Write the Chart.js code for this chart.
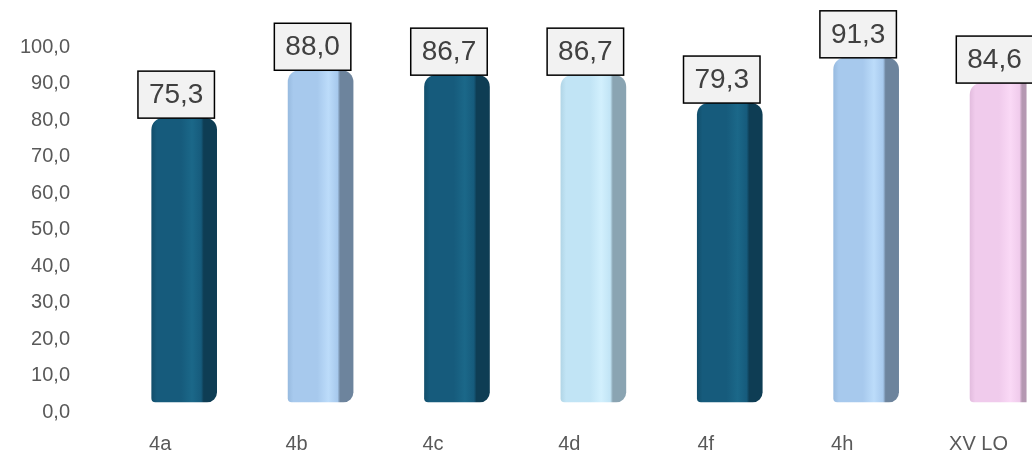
<!DOCTYPE html>
<html>
<head>
<meta charset="utf-8">
<script src="https://cdn.jsdelivr.net/npm/chart.js@4/dist/chart.umd.min.js"></script>
<style>
  html, body { margin: 0; padding: 0; background: #fff; }
  canvas { display: block; }
</style>
</head>
<body>
<canvas id="grafico" width="1032" height="453"></canvas>
<script>
// dane
const klasy = ["4a", "4b", "4c", "4d", "4f", "4h", "XV LO"];
const wyniki = [75.3, 88.0, 86.7, 86.7, 79.3, 91.3, 84.6];
const osY = [0, 10, 20, 30, 40, 50, 60, 70, 80, 90, 100];

// kolory: krawedz, przod, blysk, bok
const kolory = [
    ["#124f6c", "#165b7c", "#1b6889", "#0e3d54"],
    ["#98bbe0", "#a7c9ed", "#bcdcfa", "#6d849d"],
    ["#124f6c", "#165b7c", "#1b6889", "#0e3d54"],
    ["#b2d6e7", "#c1e4f5", "#d2f0fd", "#8aa4b2"],
    ["#124f6c", "#165b7c", "#1b6889", "#0e3d54"],
    ["#98bbe0", "#a7c9ed", "#bcdcfa", "#6d849d"],
    ["#e3bddf", "#f0cbec", "#fad9f6", "#b598b2"]
];

const szerokoscSlupka = 65;
const czcionka = "'Liberation Sans', Arial, sans-serif";

function przecinek(v) {
    return Number(v).toFixed(1).replace(".", ",");
}

function gradient(ctx) {
    const chart = ctx.chart;
    const k = kolory[ctx.dataIndex] || kolory[0];
    if (!chart.chartArea) return k[1];
    const x = chart.scales.x.getPixelForValue(ctx.dataIndex);
    const w = szerokoscSlupka;
    const g = chart.ctx.createLinearGradient(x - w / 2, 0, x + w / 2, 0);
    g.addColorStop(0, k[0]);
    g.addColorStop(0.08, k[1]);
    g.addColorStop(0.45, k[1]);
    g.addColorStop(0.62, k[2]);
    g.addColorStop(0.76, k[1]);
    g.addColorStop(0.8, k[3]);
    g.addColorStop(1, k[3]);
    return g;
}

// etykiety w ramkach nad slupkami
const etykiety = {
    id: "etykiety",
    afterDatasetsDraw(chart) {
        const ctx = chart.ctx;
        const meta = chart.getDatasetMeta(0);
        ctx.save();
        ctx.font = "28px " + czcionka;
        ctx.textAlign = "center";
        ctx.textBaseline = "middle";
        meta.data.forEach(function (el, i) {
            const tekst = przecinek(wyniki[i]);
            const w = ctx.measureText(tekst).width + 22;
            const h = 47;
            const cx = el.x - 8;
            const dol = el.y;
            ctx.fillStyle = "#f2f2f2";
            ctx.fillRect(cx - w / 2, dol - h, w, h);
            ctx.lineWidth = 1.5;
            ctx.strokeStyle = "#000";
            ctx.strokeRect(cx - w / 2, dol - h, w, h);
            ctx.fillStyle = "#404040";
            ctx.fillText(tekst, cx, dol - h / 2 + 1);
        });
        ctx.restore();
    }
};

const chart = new Chart(document.getElementById("grafico"), {
    type: "bar",
    data: {
        datasets: [{
            data: wyniki.map((v, i) => ({ x: i, y: v })),
            yAxisID: "y2",
            backgroundColor: gradient,
            borderWidth: 0,
            borderSkipped: false,
            borderRadius: { topLeft: 12, topRight: 12, bottomLeft: 4, bottomRight: 10 },
            barThickness: szerokoscSlupka
        }]
    },
    options: {
        responsive: false,
        animation: false,
        layout: { padding: { top: 47, right: 0, bottom: 0, left: 0 } },
        plugins: {
            legend: { display: false },
            tooltip: { enabled: false }
        },
        scales: {
            x: {
                type: "linear",
                offset: false,
                min: -0.5,
                max: 6.176,
                grid: { display: false, tickLength: 20 },
                border: { display: false },
                afterBuildTicks(scale) { scale.ticks = klasy.map((k, i) => ({ value: i })); },
                ticks: {
                    color: "#595959",
                    font: { family: czcionka, size: 20 },
                    padding: 0,
                    labelOffset: -24,
                    maxRotation: 0,
                    autoSkip: false,
                    callback: v => klasy[v]
                },
                afterFit(scale) { scale.height = 41; }
            },
            y: {
                min: 0,
                max: 100,
                grid: { display: false, tickLength: 46 },
                border: { display: false },
                afterBuildTicks(scale) { scale.ticks = osY.map(v => ({ value: v })); },
                ticks: {
                    color: "#595959",
                    font: { family: czcionka, size: 20 },
                    padding: 0,
                    callback: v => przecinek(v)
                },
                afterFit(scale) { scale.width = 116; }
            },
            y2: {
                display: false,
                min: -2.653,
                max: 94.17
            }
        }
    },
    plugins: [etykiety]
});
</script>
</body>
</html>
